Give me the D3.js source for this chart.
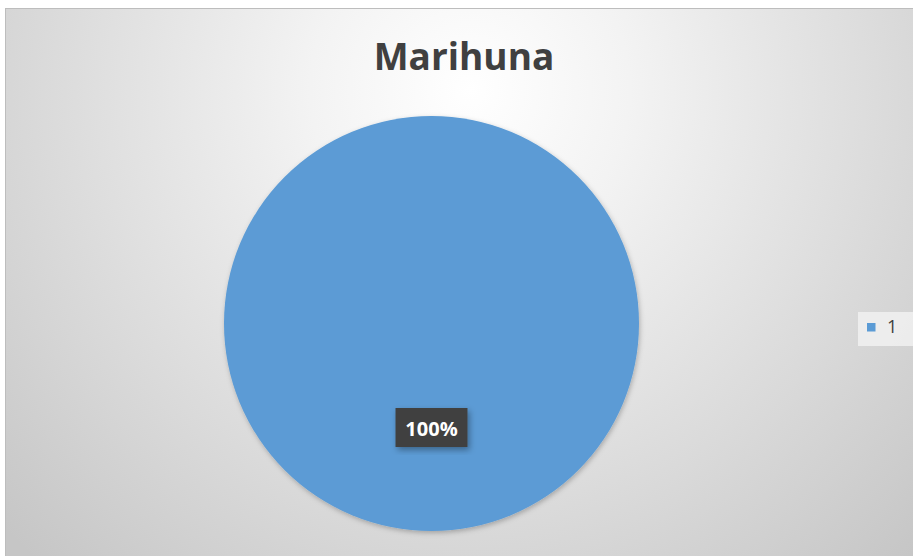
<!DOCTYPE html>
<html><head><meta charset="utf-8">
<script src="https://cdn.jsdelivr.net/npm/d3@7"></script>
<style>html,body{margin:0;padding:0;background:#fff;}svg{display:block;}</style>
</head><body>
<svg id="chart" width="913" height="556"></svg>
<script>
const categories = ["1"];
const values = [100];
const title = "Marihuna";
const colors = ["#5B9BD5"];

const svg = d3.select("#chart");
const W = 913, H = 556;
const defs = svg.append("defs");
const bg = defs.append("radialGradient").attr("id","bg")
  .attr("gradientUnits","userSpaceOnUse").attr("cx",470).attr("cy",90).attr("r",640);
bg.append("stop").attr("offset","0%").attr("stop-color","#ffffff");
bg.append("stop").attr("offset","25%").attr("stop-color","#f3f3f3");
bg.append("stop").attr("offset","100%").attr("stop-color","#c6c6c6");
const sh = defs.append("filter").attr("id","sh").attr("x","-20%").attr("y","-20%").attr("width","140%").attr("height","140%");
sh.append("feDropShadow").attr("dx",2).attr("dy",3).attr("stdDeviation",3).attr("flood-color","#000").attr("flood-opacity",0.35);
const sh2 = defs.append("filter").attr("id","sh2").attr("x","-20%").attr("y","-20%").attr("width","140%").attr("height","140%");
sh2.append("feDropShadow").attr("dx",1).attr("dy",2).attr("stdDeviation",2.5).attr("flood-color","#000").attr("flood-opacity",0.25);

svg.append("rect").attr("x",5.5).attr("y",8.5).attr("width",W).attr("height",H)
  .attr("fill","url(#bg)").attr("stroke","#bdbdbd").attr("stroke-width",1);

svg.append("text").attr("x",464).attr("y",70).attr("text-anchor","middle")
  .attr("font-family","'Open Sans', 'Liberation Sans', sans-serif").attr("font-weight","bold")
  .attr("font-size",37).attr("fill","#404040").text(title);

const cx = 431.5, cy = 323.5, R = 207.5;
const pie = d3.pie().sort(null).value(d=>d)(values);
const arc = d3.arc().innerRadius(0).outerRadius(R);
const color = d3.scaleOrdinal().domain(categories).range(colors);
const g = svg.append("g").attr("transform",`translate(${cx},${cy})`);
g.selectAll("path").data(pie).join("path")
  .attr("d",arc).attr("fill",(d,i)=>color(categories[i])).attr("filter","url(#sh2)");

const total = d3.sum(values);
const fmt = d3.format(".0%");
const lbl = svg.append("g").attr("transform",`translate(${cx},${427.5})`);
pie.forEach((d,i)=>{
  const t = fmt(values[i]/total);
  lbl.append("rect").attr("x",-36).attr("y",-19.5).attr("width",72).attr("height",39)
    .attr("fill","#404040").attr("filter","url(#sh)");
  lbl.append("text").attr("x",0).attr("y",8).attr("text-anchor","middle")
    .attr("font-family","'Open Sans', 'Liberation Sans', sans-serif").attr("font-weight","bold")
    .attr("font-size",20).attr("fill","#ffffff").text(t);
});

const leg = svg.append("g").attr("transform","translate(858,312)");
leg.append("rect").attr("x",0).attr("y",0).attr("width",55).attr("height",34).attr("fill","#f2f2f2").attr("opacity",0.8);
categories.forEach((c,i)=>{
  leg.append("rect").attr("x",9).attr("y",11).attr("width",8.5).attr("height",8.5).attr("fill",color(c));
  leg.append("text").attr("x",29).attr("y",20.5).attr("font-family","'Open Sans', 'Liberation Sans', sans-serif")
    .attr("font-size",18).attr("fill","#404040").text(c);
});
</script>
</body></html>
